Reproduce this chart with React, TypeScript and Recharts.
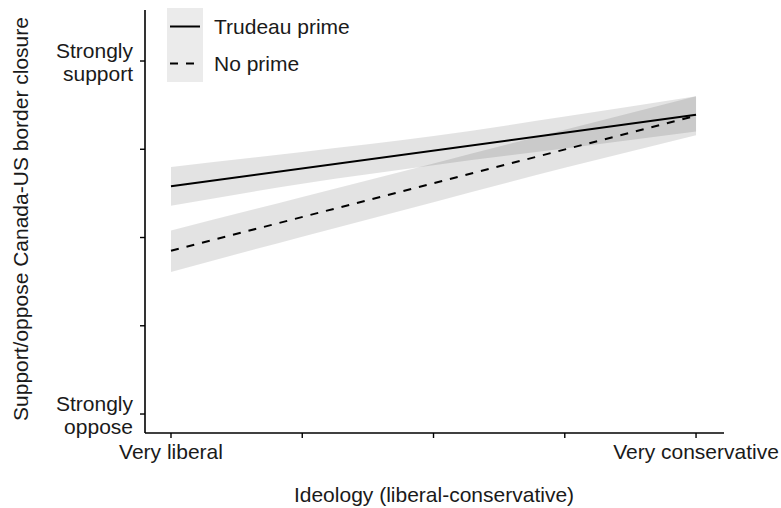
import React from "react";
import { ComposedChart, Area, Line, XAxis, YAxis } from "recharts";

// Ideology positions (0 = Very liberal, 4 = Very conservative)
const ideology = [0, 1, 2, 3, 4];
const xTickLabels = ["Very liberal", "", "", "", "Very conservative"];

// Support scale 1 (Strongly oppose) .. 5 (Strongly support)
const yTicks = [1, 2, 3, 4, 5];
const yTickLabels: Record<number, string[]> = {
  1: ["Strongly", "oppose"],
  5: ["Strongly", "support"],
};

// Fitted lines (endpoints)
const trudeauLine = [3.58, null, null, null, 4.39];
const noPrimeLine = [2.85, null, null, null, 4.38];

// Confidence bands
const trudeauLow = [3.36, 3.61, 3.82, 4.01, 4.2];
const trudeauHigh = [3.8, 3.97, 4.15, 4.37, 4.6];
const noPrimeLow = [2.61, 3.01, 3.4, 3.79, 4.16];
const noPrimeHigh = [3.08, 3.46, 3.84, 4.22, 4.6];

const data = ideology.map((x, i) => ({
  x,
  tBand: [trudeauLow[i], trudeauHigh[i]],
  nBand: [noPrimeLow[i], noPrimeHigh[i]],
  tLine: trudeauLine[i],
  nLine: noPrimeLine[i],
}));

const FONT = '"Liberation Sans", Arial, Helvetica, sans-serif';
const FS = 21;
const TXT = "#1a1a1a";

const YTick = (props: any) => {
  const { x, y, payload } = props;
  const lines = yTickLabels[payload.value];
  if (!lines) return null;
  return (
    <text x={x} y={y} textAnchor="end" fontFamily={FONT} fontSize={FS} fill={TXT}>
      <tspan x={x} dy={-3}>{lines[0]}</tspan>
      <tspan x={x} dy={23}>{lines[1]}</tspan>
    </text>
  );
};

const XTick = (props: any) => {
  const { x, y, payload } = props;
  const label = xTickLabels[payload.value] || "";
  if (!label) return null;
  return (
    <text x={x} y={y} dy="0.71em" textAnchor="middle" fontFamily={FONT} fontSize={FS} fill={TXT}>
      {label}
    </text>
  );
};

export default function App() {
  return (
    <div style={{ position: "absolute", left: 0, top: 0, width: 781, height: 508, background: "#fff" }}>
      <ComposedChart
        width={781}
        height={508}
        data={data}
        margin={{ top: 10, right: 57, bottom: 0, left: 0 }}
      >
        <XAxis
          dataKey="x"
          type="number"
          domain={[-0.198, 4.213]}
          ticks={ideology}
          allowDataOverflow
          height={75}
          tick={<XTick />}
          tickSize={5}
          tickMargin={6}
          axisLine={{ stroke: "#000", strokeWidth: 1.6 }}
          tickLine={{ stroke: "#000", strokeWidth: 1.4 }}
          label={() => (
            <text x={434} y={502} textAnchor="middle" fontFamily={FONT} fontSize={FS} fill={TXT}>
              Ideology (liberal-conservative)
            </text>
          )}
        />
        <YAxis
          type="number"
          domain={[0.785, 5.578]}
          ticks={yTicks}
          allowDataOverflow
          width={145}
          tick={<YTick />}
          tickSize={5}
          tickMargin={7}
          axisLine={{ stroke: "#000", strokeWidth: 1.6 }}
          tickLine={{ stroke: "#000", strokeWidth: 1.4 }}
          label={() => (
            <text
              x={28}
              y={219}
              transform="rotate(-90 28 219)"
              textAnchor="middle"
              fontFamily={FONT}
              fontSize={FS}
              fill={TXT}
            >
              Support/oppose Canada-US border closure
            </text>
          )}
        />
        <Area
          dataKey="tBand"
          type="monotone"
          stroke="none"
          fill="#000"
          fillOpacity={0.11}
          isAnimationActive={false}
          activeDot={false}
          dot={false}
        />
        <Area
          dataKey="nBand"
          type="monotone"
          stroke="none"
          fill="#000"
          fillOpacity={0.11}
          isAnimationActive={false}
          activeDot={false}
          dot={false}
        />
        <Line
          dataKey="tLine"
          stroke="#000"
          strokeWidth={2}
          dot={false}
          activeDot={false}
          connectNulls
          isAnimationActive={false}
        />
        <Line
          dataKey="nLine"
          stroke="#000"
          strokeWidth={2}
          strokeDasharray="8 8"
          dot={false}
          activeDot={false}
          connectNulls
          isAnimationActive={false}
        />
      </ComposedChart>
      <div
        style={{
          position: "absolute",
          left: 167,
          top: 8,
          fontFamily: FONT,
          fontSize: FS,
          color: TXT,
        }}
      >
        {[
          { label: "Trudeau prime", dash: undefined },
          { label: "No prime", dash: "8 8" },
        ].map((item) => (
          <div key={item.label} style={{ display: "flex", alignItems: "center", height: 37 }}>
            <svg width={36} height={37} style={{ display: "block", background: "#ebebeb" }}>
              <line x1={3} x2={33} y1={18.5} y2={18.5} stroke="#000" strokeWidth={2} strokeDasharray={item.dash} />
            </svg>
            <span style={{ marginLeft: 11, lineHeight: "37px" }}>{item.label}</span>
          </div>
        ))}
      </div>
    </div>
  );
}
